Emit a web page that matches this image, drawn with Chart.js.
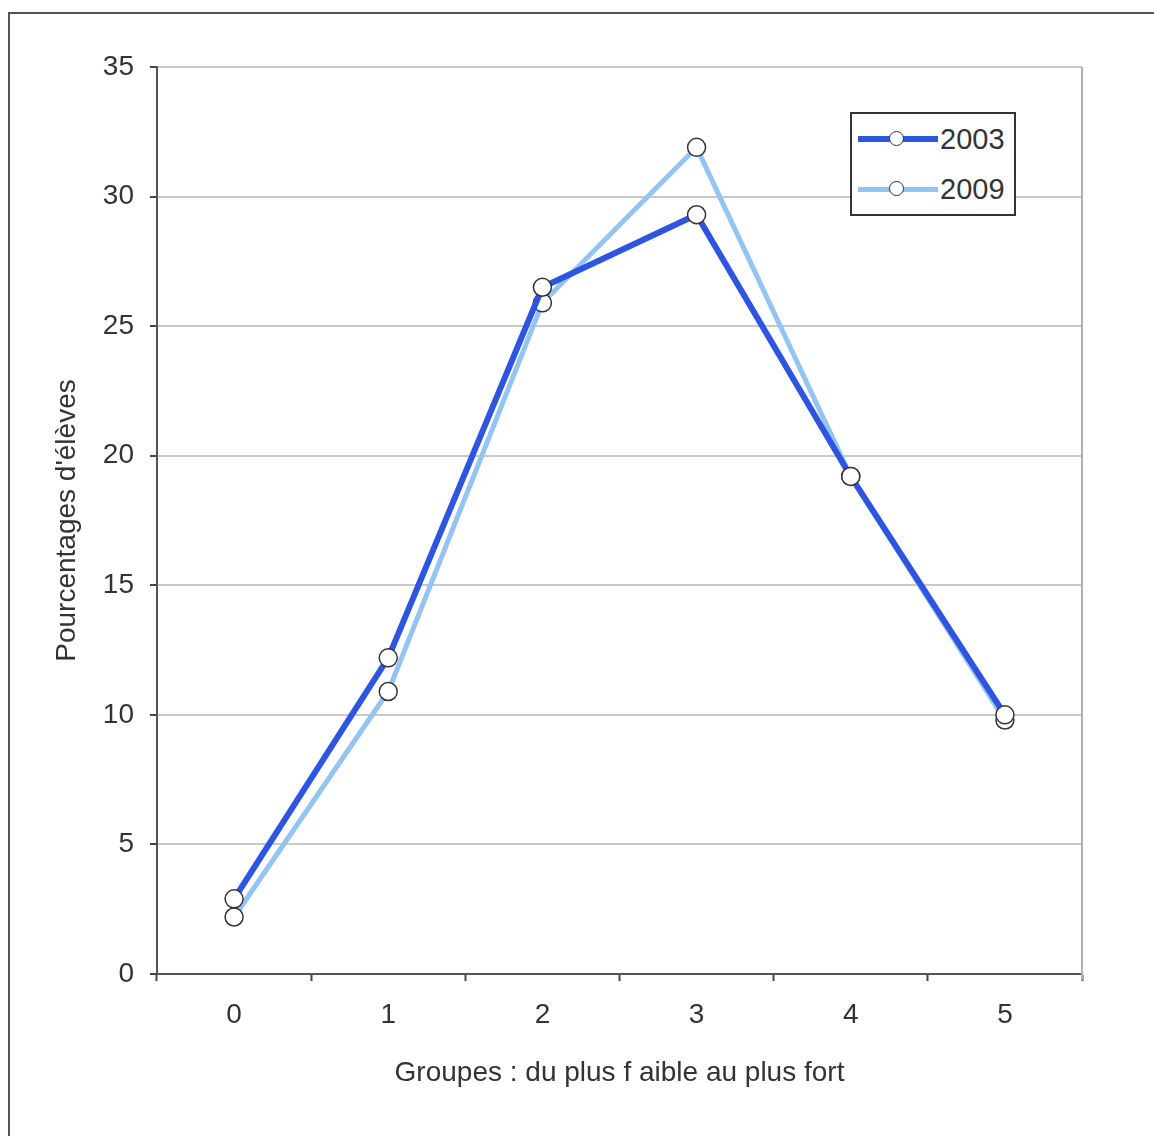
<!DOCTYPE html>
<html>
<head>
    <title>Groupes</title>
    <script src="https://cdn.jsdelivr.net/npm/chart.js"></script>
    <style>
        body {
            margin: 0;
            background: #ffffff;
            font-family: 'Liberation Sans', Arial, sans-serif;
        }

        .frame {
            position: absolute;
            left: 8px;
            top: 12px;
            width: 1200px;
            height: 1200px;
            border-top: 2px solid #555;
            border-left: 2px solid #555;
        }

        .wrap {
            position: absolute;
            left: 0;
            top: 0;
            width: 1154px;
            height: 1136px;
        }

        .legend {
            position: absolute;
            left: 850px;
            top: 112px;
            width: 166px;
            height: 104px;
            border: 2px solid #333;
            background: #fff;
            box-sizing: border-box;
        }

        .legend .item {
            position: absolute;
            left: 6px;
            height: 30px;
            display: flex;
            align-items: center;
            font-size: 29px;
            color: #333;
        }

        .legend .swatch {
            position: relative;
            width: 80px;
            height: 30px;
            margin-right: 2px;
        }

        .legend .swatch .ln {
            position: absolute;
            left: 0;
            right: 0;
            top: 50%;
        }

        .legend .swatch .pt {
            position: absolute;
            left: 31px;
            top: 7px;
            width: 13px;
            height: 13px;
            border: 1.5px solid #333;
            border-radius: 50%;
            background: #fff;
        }
    </style>
</head>
<body>
    <div class="frame"></div>
    <div class="wrap">
        <canvas id="chart" width="1154" height="1136"></canvas>
    </div>
    <div class="legend" id="legend"></div>

    <script>
        // données
        const groupes = ['0', '1', '2', '3', '4', '5'];
        const serie2003 = [2.9, 12.2, 26.5, 29.3, 19.2, 10.0];
        const serie2009 = [2.2, 10.9, 25.9, 31.9, 19.2, 9.8];
        const etiquettes = ['2003', '2009'];
        const couleurs = ['#2e55e0', '#93c4f2'];
        const epaisseurs = [6, 5];

        const police = "'Liberation Sans', Arial, sans-serif";

        // bordure droite de la zone de tracé
        const bordure = {
            id: 'bordure',
            beforeDatasetsDraw(chart) {
                const a = chart.chartArea;
                const ctx = chart.ctx;
                ctx.save();
                ctx.strokeStyle = '#b0b0b0';
                ctx.lineWidth = 2;
                ctx.beginPath();
                ctx.moveTo(a.right, a.top);
                ctx.lineTo(a.right, a.bottom + 6);
                ctx.stroke();
                ctx.restore();
            }
        };

        const pointStyle = {
            pointRadius: 9,
            pointHoverRadius: 9,
            pointBackgroundColor: '#ffffff',
            pointBorderColor: '#333333',
            pointBorderWidth: 1.5
        };

        const ctx = document.getElementById('chart');
        const chart = new Chart(ctx, {
            type: 'line',
            data: {
                labels: groupes,
                datasets: [
                    Object.assign({
                        label: etiquettes[0],
                        data: serie2003,
                        borderColor: couleurs[0],
                        borderWidth: epaisseurs[0],
                        tension: 0
                    }, pointStyle),
                    Object.assign({
                        label: etiquettes[1],
                        data: serie2009,
                        borderColor: couleurs[1],
                        borderWidth: epaisseurs[1],
                        tension: 0
                    }, pointStyle)
                ]
            },
            options: {
                responsive: false,
                animation: false,
                layout: {
                    padding: { left: 46, top: 67, right: 72, bottom: 42 }
                },
                plugins: {
                    legend: { display: false },
                    tooltip: { enabled: false }
                },
                scales: {
                    x: {
                        offset: true,
                        grid: {
                            offset: true,
                            drawOnChartArea: false,
                            drawTicks: true,
                            tickLength: 7,
                            tickColor: '#444',
                            tickWidth: 2
                        },
                        border: { color: '#555', width: 2 },
                        ticks: {
                            color: '#333',
                            font: { family: police, size: 28 },
                            padding: 17,
                            maxRotation: 0
                        },
                        title: {
                            display: true,
                            text: 'Groupes : du plus f aible au plus fort',
                            color: '#333',
                            font: { family: police, size: 28 },
                            padding: { top: 4, bottom: 4 }
                        },
                        afterFit(scale) { scale.height = 120; }
                    },
                    y: {
                        min: 0,
                        max: 35,
                        ticks: {
                            stepSize: 5,
                            color: '#333',
                            font: { family: police, size: 28 },
                            padding: 16
                        },
                        grid: {
                            color: '#c8c8c8',
                            lineWidth: 2,
                            drawTicks: true,
                            tickLength: 7,
                            tickColor: '#444',
                            tickWidth: 2
                        },
                        border: { color: '#555', width: 2 },
                        title: {
                            display: true,
                            text: "Pourcentages d'élèves",
                            color: '#333',
                            font: { family: police, size: 28 },
                            padding: { top: 4, bottom: 4 }
                        },
                        afterFit(scale) { scale.width = 111; }
                    }
                }
            },
            plugins: [bordure]
        });

        // légende encadrée
        const legende = document.getElementById('legend');
        chart.data.datasets.forEach((ds, i) => {
            const item = document.createElement('div');
            item.className = 'item';
            item.style.top = (10 + i * 50) + 'px';
            item.innerHTML = '<div class="swatch"><div class="ln" style="height:' + ds.borderWidth +
                'px;margin-top:-' + (ds.borderWidth / 2) + 'px;background:' + ds.borderColor +
                '"></div><div class="pt"></div></div><span>' + ds.label + '</span>';
            legende.appendChild(item);
        });
    </script>
</body>
</html>
